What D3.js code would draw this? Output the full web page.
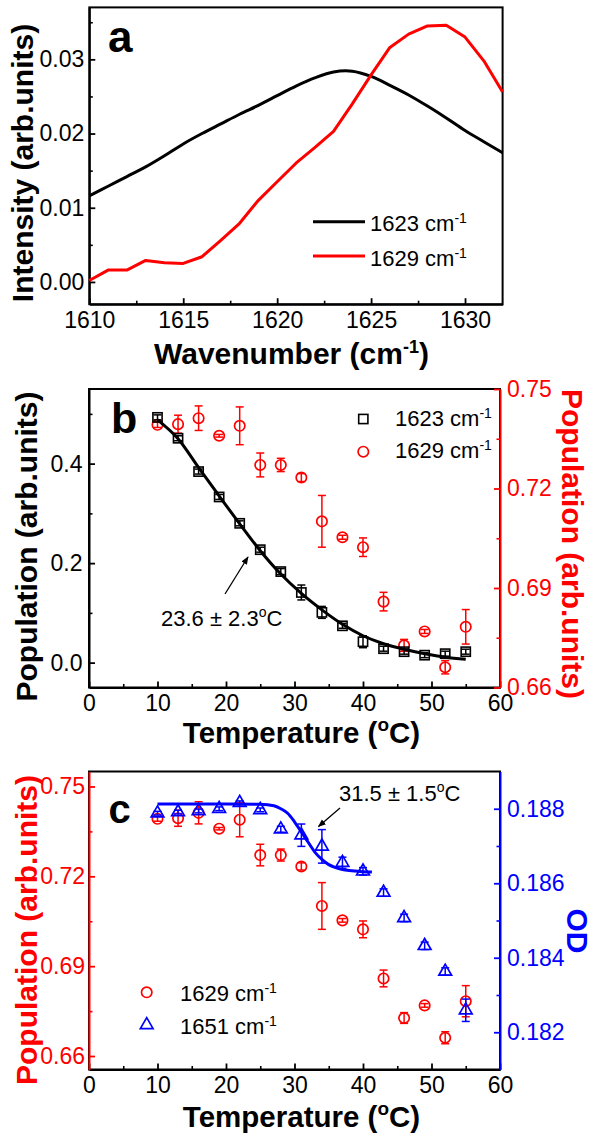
<!DOCTYPE html>
<html><head><meta charset="utf-8">
<script src="https://cdn.jsdelivr.net/npm/d3@7"></script>
<style>
body{margin:0;background:#fff}
svg text{font-family:"Liberation Sans",Arial,Helvetica,sans-serif}
</style>
</head><body>
<svg id="chart" width="594" height="1143"></svg>
<script>
// ---------- Panel a data ----------
const wavenumbers = [1610,1611,1612,1613,1614,1615,1616,1617,1618,1619,1620,1621,1622,1623,1624,1625,1626,1627,1628,1629,1630,1631,1632];
const intensity1623 = [0.0116,0.0129,0.0142,0.0155,0.0170,0.0186,0.0200,0.0213,0.0226,0.0238,0.0251,0.0264,0.0275,0.0283,0.0284,0.0277,0.0265,0.0252,0.0237,0.0221,0.0204,0.0189,0.0174];
const intensity1629 = [0.0002,0.0016,0.0016,0.0029,0.0026,0.0025,0.0034,0.0056,0.0079,0.0110,0.0135,0.0160,0.0181,0.0203,0.0240,0.0279,0.0316,0.0334,0.0345,0.0346,0.0330,0.0298,0.0256];
const aXTicks = [1610,1615,1620,1625,1630];
const aXMinor = [1612.5,1617.5,1622.5,1627.5];
const aYTicks = [0.00,0.01,0.02,0.03];
const aYMinor = [0.005,0.015,0.025,0.035];

// ---------- Panel b / c data ----------
const temps = [10,13,16,19,22,25,28,31,34,37,40,43,46,49,52,55];
const pop1623 = [0.493,0.451,0.384,0.333,0.280,0.227,0.183,0.141,0.101,0.074,0.042,0.028,0.022,0.015,0.018,0.022];
const pop1623Err = [0.005,0.005,0.005,0.005,0.005,0.005,0.006,0.015,0.012,0.005,0.012,0.005,0.005,0.005,0.005,0.005];
const pop1629 = [0.7392,0.7394,0.7412,0.7359,0.7389,0.7271,0.7271,0.7233,0.7101,0.7053,0.7023,0.6859,0.6727,0.6769,0.6661,0.6783];
const pop1629Err = [0.0008,0.0027,0.0037,0.0004,0.0057,0.0036,0.0020,0.0012,0.0078,0.0006,0.0028,0.0028,0.0018,0.0006,0.0020,0.0052];
const od1651 = [0.18788,0.18791,0.18794,0.18800,0.18816,0.18797,0.18745,0.18729,0.18699,0.18655,0.18632,0.18575,0.18507,0.18432,0.18363,0.18259];
const od1651Err = [0.00005,0.00005,0.00005,0.00005,0.00005,0.00005,0.00008,0.00030,0.00045,0.00015,0.00010,0.00010,0.00010,0.00010,0.00010,0.00030];

// fit curves
const fit1623T = [10,13,16,19,22,25,28,31,34,37,40,43,46,49,52,55];
const fit1623  = [0.488,0.450,0.392,0.335,0.279,0.225,0.178,0.139,0.106,0.077,0.054,0.038,0.027,0.018,0.011,0.007];
const fit1651T = [10,20,25,27,28,29,30,31,32,33,34,35,36,37,38,40,41.3];
const fit1651  = [0.18813,0.18813,0.18812,0.18808,0.18800,0.18788,0.18765,0.18738,0.18710,0.18683,0.18664,0.18650,0.18642,0.18637,0.18634,0.18631,0.18630];

const tXTicks = [0,10,20,30,40,50,60];
const tXMinor = [5,15,25,35,45,55];
const bYLTicks = [0.0,0.2,0.4];
const bYLMinor = [0.1,0.3,0.5];
const popTicks = [0.66,0.69,0.72,0.75];
const popMinor = [0.675,0.705,0.735];
const odTicks = [0.182,0.184,0.186,0.188];
const odMinor = [0.183,0.185,0.187];

const RED = "#ff0000", BLUE = "#0000ff", BLACK = "#000000";
const svg = d3.select("#chart");
svg.append("rect").attr("width",594).attr("height",1143).attr("fill","#fff");

const defs = svg.append("defs");
defs.append("marker").attr("id","arrow").attr("viewBox","0 0 10 10").attr("refX",9).attr("refY",5)
  .attr("markerWidth",8).attr("markerHeight",8).attr("markerUnits","userSpaceOnUse").attr("orient","auto")
  .append("path").attr("d","M0,1 L10,5 L0,9 Z").attr("fill","#000");

const TICKFONT = 23;

function drawAxis(orient, scale, pos, major, minor, color, fmt, pad) {
  const mk = {bottom:d3.axisBottom, top:d3.axisTop, left:d3.axisLeft, right:d3.axisRight}[orient];
  const tr = (orient==="bottom"||orient==="top") ? `translate(0,${pos})` : `translate(${pos},0)`;
  const g = svg.append("g").attr("transform", tr);
  const gm = g.append("g").call(mk(scale).tickValues(minor).tickSizeInner(-3.5).tickSizeOuter(0).tickFormat(""));
  gm.select(".domain").remove();
  gm.selectAll("text").remove();
  gm.selectAll("line").attr("stroke",color).attr("stroke-width",1.6);
  const gM = g.append("g").call(mk(scale).tickValues(major).tickSizeInner(-6).tickSizeOuter(0).tickPadding(pad).tickFormat(fmt));
  gM.select(".domain").attr("stroke",color).attr("stroke-width",2);
  gM.selectAll("line").attr("stroke",color).attr("stroke-width",1.8);
  gM.selectAll("text").attr("fill",color).style("font-size",TICKFONT+"px").attr("font-family",null);
  gM.attr("font-family",null).attr("font-size",null);
  return g;
}

// parts: strings, or {sup, size, up} superscripts; following string is shifted back down
function supText(parent, x, y, parts, opts) {
  const t = parent.append("text").attr("x",x).attr("y",y)
    .attr("fill",opts.color||"#000").style("font-size",opts.size+"px")
    .style("font-weight",opts.bold?"bold":"normal");
  if (opts.anchor) t.attr("text-anchor",opts.anchor);
  let pending = 0;
  parts.forEach(p => {
    if (typeof p === "string") {
      const s = t.append("tspan").text(p);
      if (pending) { s.attr("dy", pending); pending = 0; }
    } else {
      t.append("tspan").attr("dy",-p.up).style("font-size",p.size+"px").text(p.sup);
      pending = p.up;
    }
  });
  return t;
}

// ================= Panel a =================
const ax = d3.scaleLinear().domain([1610,1632]).range([89.3,502.6]);
const ay = d3.scaleLinear().domain([-0.003,0.037]).range([304.2,7.4]);
svg.append("rect").attr("x",89.3).attr("y",7.4).attr("width",502.6-89.3).attr("height",304.2-7.4)
  .attr("fill","none").attr("stroke","#000").attr("stroke-width",2);
drawAxis("bottom", ax, 304.2, aXTicks, aXMinor, BLACK, d3.format("d"), 7.5);
drawAxis("left", ay, 89.3, aYTicks, aYMinor, BLACK, d3.format(".2f"), 5);

svg.append("path").datum(intensity1623)
  .attr("d", d3.line().x((d,i)=>ax(wavenumbers[i])).y(d=>ay(d)).curve(d3.curveCatmullRom))
  .attr("fill","none").attr("stroke",BLACK).attr("stroke-width",3);
svg.append("path").datum(intensity1629)
  .attr("d", d3.line().x((d,i)=>ax(wavenumbers[i])).y(d=>ay(d)))
  .attr("fill","none").attr("stroke",RED).attr("stroke-width",3).attr("stroke-linejoin","round");

svg.append("text").attr("x",108).attr("y",51.7).style("font-size","44px").style("font-weight","bold").text("a");

// legend a
[[221.7,BLACK,"1623"],[256,RED,"1629"]].forEach(([y,c,lab])=>{
  svg.append("line").attr("x1",313).attr("x2",365).attr("y1",y).attr("y2",y).attr("stroke",c).attr("stroke-width",3);
  supText(svg, 370, y+9.5, [lab+" cm",{sup:"-1",size:14,up:8}], {size:22});
});

supText(svg, 291.5, 364, ["Wavenumber (cm",{sup:"-1",size:18,up:11},")"], {size:30,bold:true,anchor:"middle"});
svg.append("text").attr("transform","translate(33,163) rotate(-90)").attr("text-anchor","middle")
  .style("font-size","30px").style("font-weight","bold").text("Intensity (arb.units)");

// ================= Panel b =================
const bx = d3.scaleLinear().domain([0,60]).range([89,500]);
const byL = d3.scaleLinear().domain([-0.05,0.55]).range([687.5,389]);
const byR = d3.scaleLinear().domain([0.66,0.75]).range([687.5,389]);
svg.append("rect").attr("x",89).attr("y",389).attr("width",411).attr("height",298.5)
  .attr("fill","none").attr("stroke","#000").attr("stroke-width",2);
drawAxis("bottom", bx, 687.5, tXTicks, tXMinor, BLACK, d3.format("d"), 7.5);
drawAxis("left", byL, 89, bYLTicks, bYLMinor, BLACK, d3.format(".1f"), 6.5);
drawAxis("right", byR, 500, popTicks, popMinor, RED, d3.format(".2f"), 7);

function errBars(xs, ys, errs, yScale, color, cap) {
  const g = svg.append("g").attr("stroke",color).attr("stroke-width",1.5);
  xs.forEach((t,i)=>{
    const x = bx(t), y1 = yScale(ys[i]-errs[i]), y2 = yScale(ys[i]+errs[i]);
    g.append("line").attr("x1",x).attr("x2",x).attr("y1",y1).attr("y2",y2);
    g.append("line").attr("x1",x-cap).attr("x2",x+cap).attr("y1",y1).attr("y2",y1);
    g.append("line").attr("x1",x-cap).attr("x2",x+cap).attr("y1",y2).attr("y2",y2);
  });
}
// red circles (right axis)
errBars(temps, pop1629, pop1629Err, byR, RED, 4);
svg.append("g").selectAll("circle").data(pop1629).join("circle")
  .attr("cx",(d,i)=>bx(temps[i])).attr("cy",d=>byR(d)).attr("r",5.2)
  .attr("fill","none").attr("stroke",RED).attr("stroke-width",1.7);
// black squares
errBars(temps, pop1623, pop1623Err, byL, BLACK, 4);
svg.append("g").selectAll("rect").data(pop1623).join("rect")
  .attr("x",(d,i)=>bx(temps[i])-4.6).attr("y",d=>byL(d)-4.6).attr("width",9.2).attr("height",9.2)
  .attr("fill","none").attr("stroke",BLACK).attr("stroke-width",1.6);
svg.append("path").datum(fit1623).attr("d", d3.line().x((d,i)=>bx(fit1623T[i])).y(d=>byL(d)).curve(d3.curveMonotoneX))
  .attr("fill","none").attr("stroke",BLACK).attr("stroke-width",3);

svg.append("text").attr("x",111).attr("y",433.3).style("font-size","43px").style("font-weight","bold").text("b");

// legend b
svg.append("rect").attr("x",363.3-4.6).attr("y",419-4.6).attr("width",9.2).attr("height",9.2).attr("fill","none").attr("stroke",BLACK).attr("stroke-width",1.6);
svg.append("circle").attr("cx",363.3).attr("cy",451.7).attr("r",5.2).attr("fill","none").attr("stroke",RED).attr("stroke-width",1.7);
supText(svg, 395, 425.5, ["1623 cm",{sup:"-1",size:14,up:8}], {size:22});
supText(svg, 395, 458.3, ["1629 cm",{sup:"-1",size:14,up:8}], {size:22});

// annotation b
svg.append("line").attr("x1",225).attr("y1",594).attr("x2",248).attr("y2",557)
  .attr("stroke","#000").attr("stroke-width",1.3).attr("marker-end","url(#arrow)");
supText(svg, 161, 626, ["23.6 \u00b1 2.3",{sup:"o",size:14,up:9},"C"], {size:22});

supText(svg, 301.5, 743.3, ["Temperature (",{sup:"o",size:19,up:12},"C)"], {size:29.5,bold:true,anchor:"middle"});
svg.append("text").attr("transform","translate(36.5,546.5) rotate(-90)").attr("text-anchor","middle")
  .style("font-size","30px").style("font-weight","bold").text("Population (arb.units)");
svg.append("text").attr("transform","translate(562,544) rotate(90)").attr("text-anchor","middle").attr("fill",RED)
  .style("font-size","30px").style("font-weight","bold").text("Population (arb.units)");

// ================= Panel c =================
const cyL = d3.scaleLinear().domain([0.6555,0.755]).range([1069.5,771.5]);
const cyR = d3.scaleLinear().domain([0.181,0.189]).range([1069.5,771.5]);
svg.append("rect").attr("x",89).attr("y",771.5).attr("width",411).attr("height",298)
  .attr("fill","none").attr("stroke","#000").attr("stroke-width",2);
drawAxis("bottom", bx, 1069.5, tXTicks, tXMinor, BLACK, d3.format("d"), 7.5);
drawAxis("left", cyL, 89, popTicks, popMinor, RED, d3.format(".2f"), 4);
drawAxis("right", cyR, 500, odTicks, odMinor, BLUE, d3.format(".3f"), 7);

errBars(temps, pop1629, pop1629Err, cyL, RED, 4);
svg.append("g").selectAll("circle").data(pop1629).join("circle")
  .attr("cx",(d,i)=>bx(temps[i])).attr("cy",d=>cyL(d)).attr("r",5.2)
  .attr("fill","none").attr("stroke",RED).attr("stroke-width",1.7);

errBars(temps, od1651, od1651Err, cyR, BLUE, 4);
const tri = d3.symbol().type(d3.symbolTriangle).size(70);
svg.append("g").selectAll("path").data(od1651).join("path")
  .attr("transform",(d,i)=>`translate(${bx(temps[i])},${cyR(d)})`).attr("d",tri)
  .attr("fill","none").attr("stroke",BLUE).attr("stroke-width",1.7);
svg.append("path").datum(fit1651).attr("d", d3.line().x((d,i)=>bx(fit1651T[i])).y(d=>cyR(d)).curve(d3.curveMonotoneX))
  .attr("fill","none").attr("stroke",BLUE).attr("stroke-width",3);

svg.append("text").attr("x",108.5).attr("y",823.3).style("font-size","40px").style("font-weight","bold").text("c");

// legend c
svg.append("circle").attr("cx",146.7).attr("cy",992.3).attr("r",5.2).attr("fill","none").attr("stroke",RED).attr("stroke-width",1.7);
svg.append("path").attr("transform","translate(146.7,1025)").attr("d",tri).attr("fill","none").attr("stroke",BLUE).attr("stroke-width",1.7);
supText(svg, 180, 1000.7, ["1629 cm",{sup:"-1",size:14,up:8}], {size:22});
supText(svg, 180, 1034, ["1651 cm",{sup:"-1",size:14,up:8}], {size:22});

// annotation c
svg.append("line").attr("x1",340).attr("y1",808).attr("x2",318.5).attr("y2",826.5)
  .attr("stroke","#000").attr("stroke-width",1.3).attr("marker-end","url(#arrow)");
supText(svg, 339, 800.7, ["31.5 \u00b1 1.5",{sup:"o",size:14,up:9},"C"], {size:22});

supText(svg, 301.5, 1127, ["Temperature (",{sup:"o",size:19,up:12},"C)"], {size:29.5,bold:true,anchor:"middle"});
svg.append("text").attr("transform","translate(36.5,930) rotate(-90)").attr("text-anchor","middle").attr("fill",RED)
  .style("font-size","30px").style("font-weight","bold").text("Population (arb.units)");
svg.append("text").attr("transform","translate(567,931) rotate(90)").attr("text-anchor","middle").attr("fill",BLUE)
  .style("font-size","30px").style("font-weight","bold").text("OD");
</script>
</body></html>
